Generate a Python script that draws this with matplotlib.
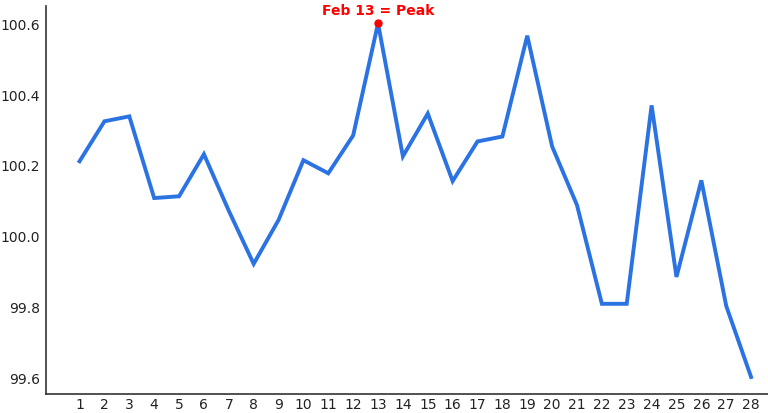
import matplotlib.pyplot as plt
import numpy as np

days = list(range(1, 29))
values = [100.21, 100.323, 100.337, 100.106, 100.111, 100.23, 100.07, 99.92,
          100.044, 100.213, 100.176, 100.283, 100.6, 100.224, 100.345, 100.154,
          100.266, 100.28, 100.565, 100.252, 100.086, 99.807, 99.807, 100.368,
          99.883, 100.156, 99.801, 99.6]
peak_day = 13
peak_label = 'Feb 13 = Peak'

fig = plt.figure(figsize=(7.68, 4.14), dpi=100)
ax = fig.add_axes([45.5 / 768, 19 / 414, 723 / 768, 388 / 414])

ax.plot(days, values, color='#2b72e3', linewidth=2.8, solid_joinstyle='miter')
pv = values[days.index(peak_day)]
ax.plot([peak_day], [pv], 'o', color='red', markersize=5)
ax.annotate(peak_label, (peak_day, pv), xytext=(0, 4.5), textcoords='offset points',
            ha='center', va='bottom', color='red', fontweight='bold', fontsize=10)

ax.set_xticks(days)
ax.set_yticks([99.6, 99.8, 100.0, 100.2, 100.4, 100.6])
ax.set_xlim(-0.37, 28.7)
ax.set_ylim(99.552, 100.649)
ax.tick_params(length=0, labelsize=10, labelcolor='#222222')
ax.tick_params(axis='x', pad=2.5)
ax.tick_params(axis='y', pad=4)
ax.spines['top'].set_visible(False)
ax.spines['right'].set_visible(False)
for s in ['left', 'bottom']:
    ax.spines[s].set_color('#333333')
    ax.spines[s].set_linewidth(1.2)

fig.savefig('out.png', dpi=100)
